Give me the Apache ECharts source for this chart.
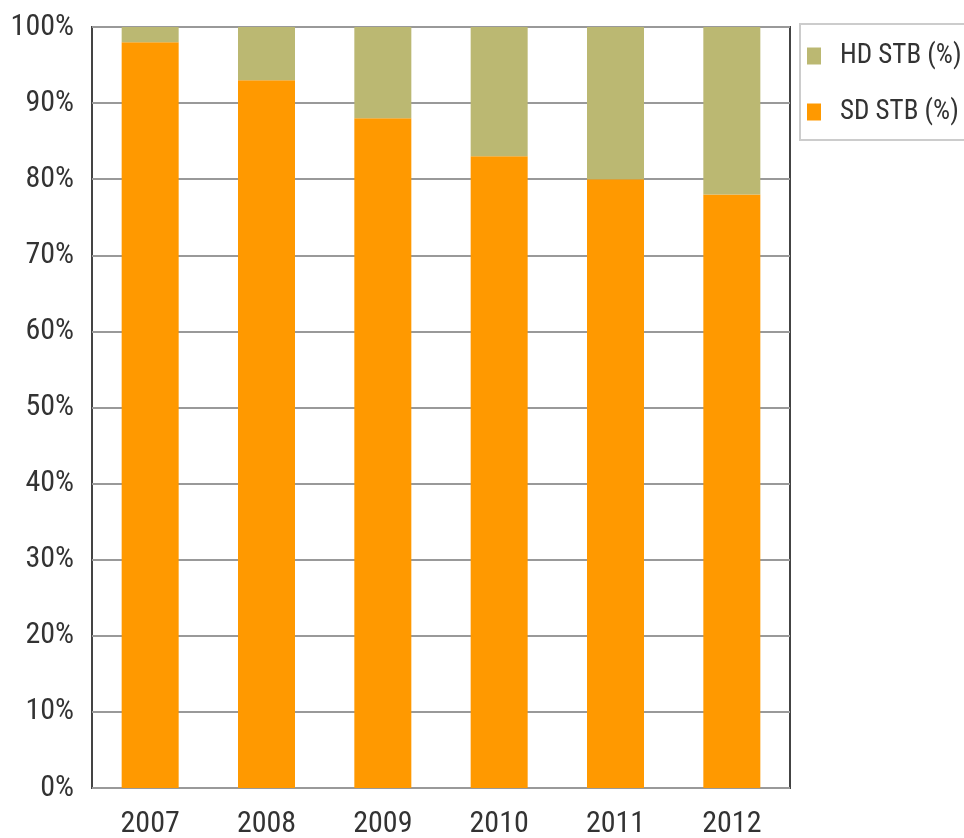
<!DOCTYPE html>
<html>
<head>
<meta charset="utf-8">
<script src="https://cdn.jsdelivr.net/npm/echarts@6/dist/echarts.min.js"></script>
<style>
  html, body { margin: 0; padding: 0; background: #fff; }
  #chart { width: 964px; height: 838px; }
</style>
</head>
<body>
<div id="chart"></div>
<script>
// 年份与各类机顶盒占比
const years = ['2007', '2008', '2009', '2010', '2011', '2012'];
const sdShare = [98, 93, 88, 83, 80, 78];   // SD STB (%)
const hdShare = [2, 7, 12, 17, 20, 22];     // HD STB (%)

const font = "'Roboto Condensed', 'DejaVu Sans Condensed', sans-serif";

const myChart = echarts.init(document.getElementById('chart'));
myChart.setOption({
  animation: false,
  grid: {
    left: 92,
    right: 174,
    top: 27,
    bottom: 50,
    show: true,
    borderColor: '#444',
    borderWidth: 2,
    containLabel: false,
    outerBoundsMode: 'none',
  },
  legend: {
    orient: 'vertical',
    left: 800,
    top: 24,
    data: ['HD STB (%)', 'SD STB (%)'],
    itemWidth: 14,
    itemHeight: 17,
    itemGap: 28,
    padding: [18, 5, 14, 7],
    borderColor: '#ccc',
    borderWidth: 2,
    icon: 'rect',
    textStyle: {
      fontFamily: font,
      fontSize: 27,
      color: '#333',
      lineHeight: 28,
      padding: [0, 0, 0, 14],
    },
  },
  xAxis: {
    type: 'category',
    data: years,
    axisLine: {show: false},
    axisTick: {show: false},
    axisLabel: {
      fontFamily: font,
      fontSize: 30,
      color: '#333',
      margin: 21,
    },
  },
  yAxis: {
    type: 'value',
    min: 0,
    max: 100,
    interval: 10,
    axisLine: {show: false},
    axisTick: {show: false},
    axisLabel: {
      formatter: '{value}%',
      fontFamily: font,
      fontSize: 30,
      color: '#333',
      margin: 18,
    },
    splitLine: {lineStyle: {color: '#999', width: 2}},
  },
  series: [
    {
      name: 'SD STB (%)',
      type: 'bar',
      stack: 'total',
      barWidth: 57,
      itemStyle: {color: '#FF9900'},
      data: sdShare,
    },
    {
      name: 'HD STB (%)',
      type: 'bar',
      stack: 'total',
      barWidth: 57,
      itemStyle: {color: '#BBB872'},
      data: hdShare,
    },
  ],
});
window.addEventListener('resize', () => myChart.resize());
</script>
</body>
</html>
